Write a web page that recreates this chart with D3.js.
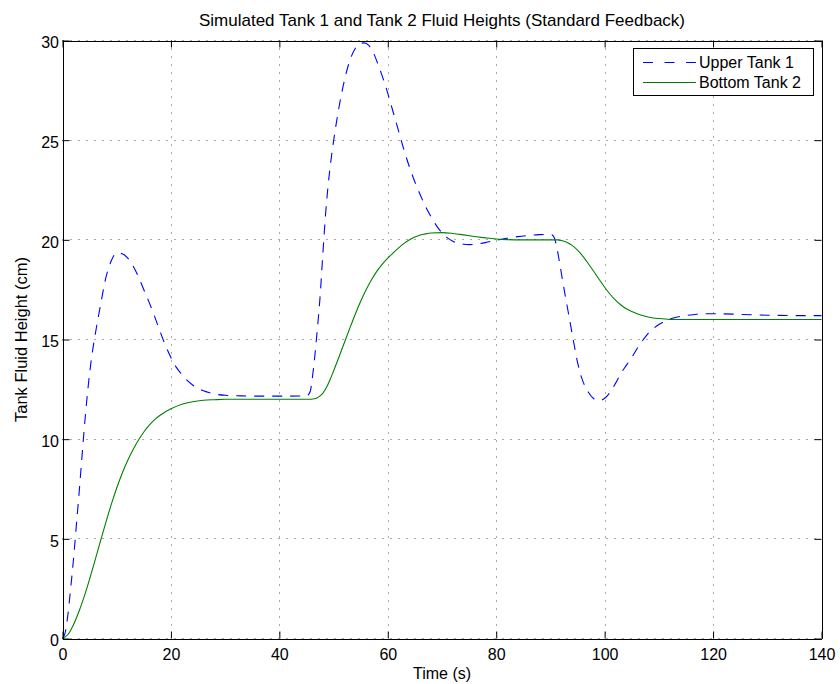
<!DOCTYPE html>
<html>
<head>
<meta charset="utf-8">
<script src="https://cdn.jsdelivr.net/npm/d3@7"></script>
<style>
  html, body { margin: 0; padding: 0; background: #fff; }
  svg { display: block; font-family: "Liberation Sans", Arial, Helvetica, sans-serif; }
</style>
</head>
<body>
<svg id="chart" width="840" height="684"></svg>
<script>
// ---- chart text ----
const titleText = "Simulated Tank 1 and Tank 2 Fluid Heights (Standard Feedback)";
const xLabelText = "Time (s)";
const yLabelText = "Tank Fluid Height (cm)";
const seriesNames = ["Upper Tank 1", "Bottom Tank 2"];

// ---- tick values ----
const xTicks = [0, 20, 40, 60, 80, 100, 120, 140];
const yTicks = [0, 5, 10, 15, 20, 25, 30];

// ---- upper tank 1 (cm) over time (s) ----
const tank1Time = [
  0, 0.5, 1, 1.5, 2, 2.5, 3, 3.5, 4, 4.5, 5, 5.5, 6, 7, 8, 9, 10, 11, 12, 13,
  14, 15, 16, 17, 18, 19, 20, 21, 22, 23, 24, 25, 26, 27, 28, 30, 33, 36, 40, 45,
  45.4, 45.75, 46, 46.4, 47, 47.5, 48, 48.5, 49, 49.5, 50, 51, 52, 53, 54, 55, 55.6, 56.5, 57.4, 58,
  59, 60, 61, 62, 63, 64, 65, 66, 67, 68, 69, 70, 71, 72, 73, 74, 75, 76, 77, 78,
  80, 82, 84, 86, 88, 89.5, 90.3, 90.7, 91, 91.5, 92, 92.5, 93, 93.5, 94, 94.5, 95, 95.5, 96, 97,
  98, 99, 100, 101, 102, 103, 104, 105, 106, 107, 108, 109, 110, 111, 112, 113, 115, 117, 119, 121,
  125, 130, 135, 140
];
const tank1Height = [
  0, 0.3, 1.2, 2.5, 3.9, 5.5, 7.1, 8.8, 10.5, 12.0, 13.3, 14.35, 15.2, 16.7, 18.1, 18.95, 19.35, 19.3, 19.1, 18.7,
  18.15, 17.5, 16.85, 16.15, 15.4, 14.7, 14.1, 13.6, 13.25, 12.95, 12.72, 12.55, 12.43, 12.34, 12.27, 12.2, 12.17, 12.16, 12.16, 12.17,
  12.25, 12.45, 12.9, 13.8, 15.5, 17.1, 19.2, 21.2, 22.75, 23.95, 24.95, 26.65, 28.0, 29.0, 29.6, 29.85, 29.88, 29.75, 29.35, 28.95,
  28.2, 27.35, 26.4, 25.45, 24.5, 23.65, 22.9, 22.25, 21.65, 21.15, 20.7, 20.35, 20.1, 19.93, 19.83, 19.78, 19.76, 19.77, 19.81, 19.86,
  19.98, 20.08, 20.16, 20.22, 20.26, 20.27, 20.25, 20.1, 19.85, 19.15, 18.35, 17.55, 16.8, 16.05, 15.3, 14.55, 13.85, 13.3, 12.9, 12.35,
  12.03, 11.93, 12.05, 12.35, 12.8, 13.3, 13.7, 14.1, 14.55, 14.95, 15.3, 15.55, 15.75, 15.9, 16.02, 16.1, 16.2, 16.27, 16.29, 16.29,
  16.26, 16.22, 16.2, 16.2
];

// ---- bottom tank 2 (cm) over time (s) ----
const tank2Time = [
  0, 1, 2, 3, 4, 5, 6, 7, 8, 9, 10, 11, 12, 13, 14, 15, 16, 17, 18, 19,
  20, 22, 24, 26, 28, 30, 35, 40,
  46, 46.5, 47, 47.5, 48, 48.5, 49, 49.5, 50,
  51, 52, 53, 54, 55, 56, 57, 58, 59, 60, 61, 62, 63, 64, 65, 66, 67, 68,
  70, 72, 74, 76, 78, 80, 82, 85, 88, 91.3,
  92, 93, 94, 95, 96, 97, 98, 99, 100, 101, 102, 103, 104, 105, 106, 107, 108, 109, 110,
  112, 115, 120, 130, 140
];
const tank2Height = [
  0, 0.2, 0.68, 1.33, 2.1, 2.98, 3.92, 4.88, 5.83, 6.73, 7.55, 8.28, 8.92, 9.47, 9.95, 10.36, 10.7, 10.98, 11.2, 11.38,
  11.52, 11.75, 11.88, 11.95, 11.98, 12.0, 12.0, 12.0,
  12.0, 12.03, 12.08, 12.17, 12.3, 12.5, 12.77, 13.08, 13.42,
  14.12, 14.85, 15.57, 16.27, 16.92, 17.5, 18.0, 18.43, 18.78, 19.08, 19.35, 19.6, 19.82, 20.0, 20.14, 20.24, 20.3, 20.34,
  20.36, 20.32, 20.25, 20.17, 20.1, 20.04, 20.01, 20.0, 20.0, 20.0,
  19.97, 19.88, 19.72, 19.48, 19.17, 18.8, 18.41, 18.01, 17.62, 17.27, 16.97, 16.73, 16.54, 16.4, 16.29, 16.2, 16.13, 16.08, 16.05,
  16.01, 16.0, 16.0, 16.0, 16.0
];

const seriesColors = ["#0000ff", "#008000"];

// ---- layout ----
const svg = d3.select("#chart");
const plotLeft = 62.5, plotRight = 821.5, plotTop = 40.5, plotBottom = 638.5;

const x = d3.scaleLinear().domain([0, 140]).range([plotLeft, plotRight]);
const y = d3.scaleLinear().domain([0, 30]).range([plotBottom, plotTop]);

const series = [
  { name: seriesNames[0], color: seriesColors[0], dash: "10,8",
    values: tank1Time.map((t, i) => ({ t, h: tank1Height[i] })) },
  { name: seriesNames[1], color: seriesColors[1], dash: null,
    values: tank2Time.map((t, i) => ({ t, h: tank2Height[i] })) }
];

// dotted grid
const grid = svg.append("g").attr("class", "grid")
  .attr("stroke", "#555").attr("stroke-width", 1).attr("stroke-dasharray", "1,7");
grid.selectAll("line.v").data(xTicks).join("line").attr("class", "v")
  .attr("x1", d => Math.round(x(d)) + 0.5).attr("x2", d => Math.round(x(d)) + 0.5)
  .attr("y1", plotTop).attr("y2", plotBottom);
grid.selectAll("line.h").data(yTicks).join("line").attr("class", "h")
  .attr("y1", d => Math.round(y(d) - 0.5) + 0.5).attr("y2", d => Math.round(y(d) - 0.5) + 0.5)
  .attr("x1", plotLeft).attr("x2", plotRight);

// data lines
const line = d3.line().x(d => x(d.t)).y(d => y(d.h)).curve(d3.curveMonotoneX);
svg.append("g").selectAll("path").data(series).join("path")
  .attr("d", d => line(d.values))
  .attr("fill", "none")
  .attr("stroke", d => d.color)
  .attr("stroke-width", 1.1)
  .attr("stroke-dasharray", d => d.dash);

// axes with inward ticks on all four sides
const tickLen = 7;
const fontSize = 16;
function styleAxis(g) {
  g.select(".domain").attr("stroke", "#000").attr("stroke-width", 1);
  g.selectAll(".tick line").attr("stroke", "#000").attr("stroke-width", 1);
  g.selectAll(".tick text").attr("fill", "#000").attr("font-size", fontSize);
}
svg.append("g").attr("transform", `translate(0,${plotBottom})`)
  .call(d3.axisBottom(x).tickValues(xTicks).tickSize(-tickLen).tickSizeOuter(0).tickFormat(d3.format("d")))
  .call(styleAxis)
  .call(g => g.selectAll(".tick text").attr("y", 21).attr("dy", null));
svg.append("g").attr("transform", `translate(0,${plotTop})`)
  .call(d3.axisTop(x).tickValues(xTicks).tickSize(-tickLen).tickSizeOuter(0).tickFormat(""))
  .call(styleAxis);
svg.append("g").attr("transform", `translate(${plotLeft},0)`)
  .call(d3.axisLeft(y).tickValues(yTicks).tickSize(-tickLen).tickSizeOuter(0).tickFormat(d3.format("d")))
  .call(styleAxis)
  .call(g => g.selectAll(".tick text").attr("x", -3.5).attr("dy", "0.45em"));
svg.append("g").attr("transform", `translate(${plotRight},0)`)
  .call(d3.axisRight(y).tickValues(yTicks).tickSize(-tickLen).tickSizeOuter(0).tickFormat(""))
  .call(styleAxis);
svg.selectAll(".domain").attr("shape-rendering", "crispEdges");

// title and axis labels
svg.append("text").attr("x", (plotLeft + plotRight) / 2).attr("y", 26)
  .attr("text-anchor", "middle").attr("font-size", 17).attr("fill", "#000").text(titleText);
svg.append("text").attr("x", (plotLeft + plotRight) / 2).attr("y", 679)
  .attr("text-anchor", "middle").attr("font-size", fontSize).attr("fill", "#000").text(xLabelText);
svg.append("text").attr("transform", `translate(27,${(plotTop + plotBottom) / 2}) rotate(-90)`)
  .attr("text-anchor", "middle").attr("font-size", 16.5).attr("fill", "#000").text(yLabelText);

// legend
const legend = svg.append("g").attr("class", "legend");
legend.append("rect").attr("x", 633.5).attr("y", 48.5).attr("width", 180).attr("height", 47)
  .attr("fill", "#fff").attr("stroke", "#000").attr("stroke-width", 1);
const rows = legend.selectAll("g.row").data(series).join("g").attr("class", "row")
  .attr("transform", (d, i) => `translate(0,${62.5 + i * 20})`);
rows.append("line").attr("x1", 643).attr("x2", 696).attr("y1", 0).attr("y2", 0)
  .attr("stroke", d => d.color).attr("stroke-width", 1.1)
  .attr("stroke-dasharray", d => d.dash ? "10,11.5" : null);
rows.append("text").attr("x", 699).attr("y", 5.7)
  .attr("font-size", fontSize).attr("fill", "#000").text(d => d.name);
</script>
</body>
</html>
